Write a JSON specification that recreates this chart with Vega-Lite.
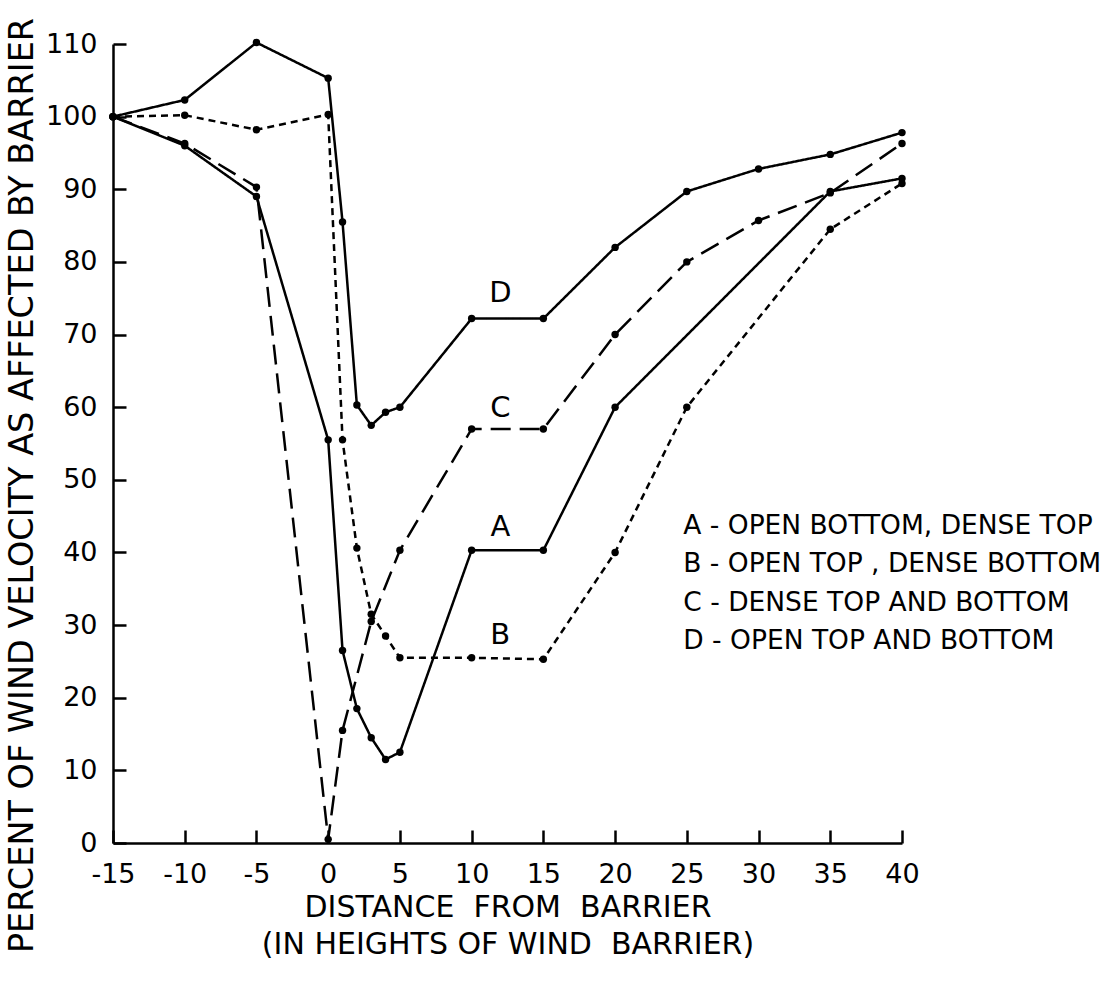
{
  "$schema": "https://vega.github.io/schema/vega-lite/v6.json",
  "width": 789,
  "height": 799,
  "autosize": {"type": "none"},
  "padding": {"left": 113, "top": 44, "right": 213, "bottom": 139},
  "background": "white",
  "config": {
    "view": {"stroke": null},
    "font": "DejaVu Sans",
    "axis": {
      "grid": false,
      "domainColor": "black",
      "domainWidth": 2.5,
      "tickColor": "black",
      "tickWidth": 2.5,
      "tickSize": -13,
      "labelColor": "black",
      "labelFontSize": 27,
      "labelFont": "DejaVu Sans",
      "titleFont": "DejaVu Sans",
      "titleColor": "black",
      "titleFontWeight": "normal"
    }
  },
  "datasets": {
    "curves": [
      {"series": "A", "x": -15, "y": 100},
      {"series": "A", "x": -10, "y": 96},
      {"series": "A", "x": -5, "y": 89},
      {"series": "A", "x": 0, "y": 55.5},
      {"series": "A", "x": 1, "y": 26.5},
      {"series": "A", "x": 2, "y": 18.5},
      {"series": "A", "x": 3, "y": 14.5},
      {"series": "A", "x": 4, "y": 11.5},
      {"series": "A", "x": 5, "y": 12.5},
      {"series": "A", "x": 10, "y": 40.3},
      {"series": "A", "x": 15, "y": 40.3},
      {"series": "A", "x": 20, "y": 60},
      {"series": "A", "x": 35, "y": 89.7},
      {"series": "A", "x": 40, "y": 91.5},
      {"series": "B", "x": -15, "y": 100},
      {"series": "B", "x": -10, "y": 100.2},
      {"series": "B", "x": -5, "y": 98.2},
      {"series": "B", "x": 0, "y": 100.3},
      {"series": "B", "x": 1, "y": 55.5},
      {"series": "B", "x": 2, "y": 40.6},
      {"series": "B", "x": 3, "y": 31.5},
      {"series": "B", "x": 4, "y": 28.5},
      {"series": "B", "x": 5, "y": 25.5},
      {"series": "B", "x": 10, "y": 25.5},
      {"series": "B", "x": 15, "y": 25.3},
      {"series": "B", "x": 20, "y": 40},
      {"series": "B", "x": 25, "y": 60},
      {"series": "B", "x": 35, "y": 84.5},
      {"series": "B", "x": 40, "y": 90.8},
      {"series": "C", "x": -15, "y": 100},
      {"series": "C", "x": -10, "y": 96.3},
      {"series": "C", "x": -5, "y": 90.3},
      {"series": "C", "x": 0, "y": 0.5},
      {"series": "C", "x": 1, "y": 15.5},
      {"series": "C", "x": 3, "y": 30.5},
      {"series": "C", "x": 5, "y": 40.3},
      {"series": "C", "x": 10, "y": 57},
      {"series": "C", "x": 15, "y": 57},
      {"series": "C", "x": 20, "y": 70},
      {"series": "C", "x": 25, "y": 80},
      {"series": "C", "x": 30, "y": 85.7},
      {"series": "C", "x": 35, "y": 89.5},
      {"series": "C", "x": 40, "y": 96.3},
      {"series": "D", "x": -15, "y": 100},
      {"series": "D", "x": -10, "y": 102.3},
      {"series": "D", "x": -5, "y": 110.2},
      {"series": "D", "x": 0, "y": 105.3},
      {"series": "D", "x": 1, "y": 85.5},
      {"series": "D", "x": 2, "y": 60.3},
      {"series": "D", "x": 3, "y": 57.5},
      {"series": "D", "x": 4, "y": 59.3},
      {"series": "D", "x": 5, "y": 60},
      {"series": "D", "x": 10, "y": 72.2},
      {"series": "D", "x": 15, "y": 72.2},
      {"series": "D", "x": 20, "y": 82},
      {"series": "D", "x": 25, "y": 89.7},
      {"series": "D", "x": 30, "y": 92.8},
      {"series": "D", "x": 35, "y": 94.8},
      {"series": "D", "x": 40, "y": 97.8}
    ],
    "curveLabels": [
      {"label": "D", "x": 12, "y": 75.7},
      {"label": "C", "x": 12, "y": 59.9},
      {"label": "A", "x": 12, "y": 43.5},
      {"label": "B", "x": 12, "y": 28.6}
    ],
    "legendRows": [
      {"text": "A - OPEN BOTTOM, DENSE TOP", "x": 24.75, "y": 43.6},
      {"text": "B - OPEN TOP , DENSE BOTTOM", "x": 24.75, "y": 38.4},
      {"text": "C - DENSE TOP AND BOTTOM", "x": 24.75, "y": 33.0},
      {"text": "D - OPEN TOP AND BOTTOM", "x": 24.75, "y": 27.8}
    ]
  },
  "layer": [
    {
      "data": {"name": "curves"},
      "mark": {"type": "line", "color": "black", "strokeWidth": 2.5},
      "encoding": {
        "x": {
          "field": "x", "type": "quantitative",
          "scale": {"domain": [-15, 40], "nice": false, "zero": false},
          "axis": {
            "values": [-15, -10, -5, 0, 5, 10, 15, 20, 25, 30, 35, 40],
            "labelExpr": "replace(datum.label, '\u2212', '-')",
            "labelPadding": 31,
            "labelFlush": false,
            "title": ["DISTANCE \u00a0FROM \u00a0BARRIER", "(IN HEIGHTS OF WIND \u00a0BARRIER)"],
            "titleFontSize": 30,
            "titleLineHeight": 37,
            "titlePadding": 5
          }
        },
        "y": {
          "field": "y", "type": "quantitative",
          "scale": {"domain": [0, 110], "nice": false},
          "axis": {
            "values": [0, 10, 20, 30, 40, 50, 60, 70, 80, 90, 100, 110],
            "labelPadding": 29,
            "title": "PERCENT OF WIND VELOCITY AS AFFECTED BY BARRIER",
            "titleFontSize": 33.5,
            "titleX": -91,
            "titleY": 441,
            "titleAngle": 270,
            "titleAlign": "center",
            "titleBaseline": "middle"
          }
        },
        "strokeDash": {
          "field": "series", "type": "nominal",
          "scale": {"domain": ["A", "B", "C", "D"], "range": [[1, 0], [7, 5], [20, 9], [1, 0]]},
          "legend": null
        }
      }
    },
    {
      "data": {"name": "curves"},
      "mark": {"type": "point", "filled": true, "color": "black", "size": 55, "opacity": 1},
      "encoding": {
        "x": {"field": "x", "type": "quantitative"},
        "y": {"field": "y", "type": "quantitative"}
      }
    },
    {
      "data": {"name": "curveLabels"},
      "mark": {"type": "text", "fontSize": 29, "color": "black", "baseline": "middle", "align": "center"},
      "encoding": {
        "x": {"field": "x", "type": "quantitative"},
        "y": {"field": "y", "type": "quantitative"},
        "text": {"field": "label"}
      }
    },
    {
      "data": {"name": "legendRows"},
      "mark": {"type": "text", "fontSize": 26.5, "color": "black", "baseline": "middle", "align": "left"},
      "encoding": {
        "x": {"field": "x", "type": "quantitative"},
        "y": {"field": "y", "type": "quantitative"},
        "text": {"field": "text"}
      }
    }
  ]
}
